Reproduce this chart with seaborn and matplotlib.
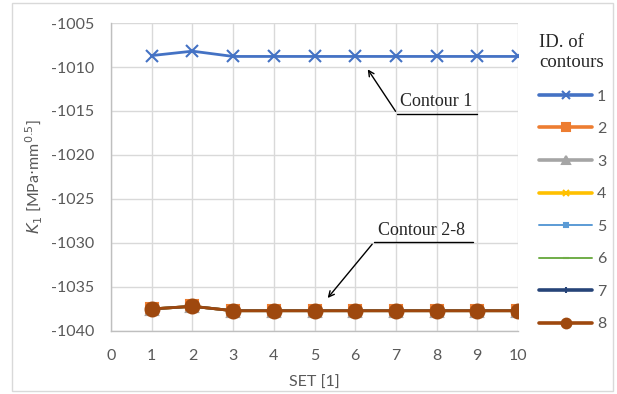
import numpy as np
import pandas as pd
import matplotlib
matplotlib.use("Agg")
import matplotlib.pyplot as plt
from matplotlib.lines import Line2D
from matplotlib.patches import Rectangle
import seaborn as sns

# values
sets = [1, 2, 3, 4, 5, 6, 7, 8, 9, 10]
k1_contour1 = [-1008.7, -1008.2, -1008.8, -1008.8, -1008.8, -1008.8, -1008.8, -1008.8, -1008.8, -1008.8]
k1_contour2_8 = [-1037.5, -1037.2, -1037.7, -1037.7, -1037.7, -1037.7, -1037.7, -1037.7, -1037.7, -1037.7]
contour_ids = ["1", "2", "3", "4", "5", "6", "7", "8"]

# Excel-like series styling
colors = ["#4472C4", "#ED7D31", "#A5A5A5", "#FFC000", "#5B9BD5", "#70AD47", "#264478", "#9E480E"]
markers = ["x", "s", "^", "x", "s", "_", "+", "o"]
widths = [2.0, 2.0, 2.0, 2.0, 0.8, 0.8, 2.0, 2.0]
msizes = [9, 9, 8, 6, 4, 6, 6, 10]

rows = []
for cid in contour_ids:
    vals = k1_contour1 if cid == "1" else k1_contour2_8
    for s, v in zip(sets, vals):
        rows.append({"set": s, "k1": v, "contour": cid})
df = pd.DataFrame(rows)

sns.set_style("white")
plt.rcParams["font.family"] = ["Lato", "DejaVu Sans"]
plt.rcParams["axes.unicode_minus"] = False

fig = plt.figure(figsize=(6.17, 3.94), dpi=100)
ax = fig.add_axes([0.180, 0.160, 0.6595, 0.7816])

fig.add_artist(Rectangle((12 / 617, 3 / 394), 601 / 617, 388 / 394, transform=fig.transFigure,
                         fill=False, edgecolor="#D9D9D9", lw=1.0))

for i, cid in enumerate(contour_ids):
    sub = df[df["contour"] == cid]
    sns.lineplot(data=sub, x="set", y="k1", ax=ax, color=colors[i], lw=widths[i],
                 marker=markers[i], markersize=msizes[i], markeredgecolor=colors[i],
                 markeredgewidth=1.5, legend=False, zorder=3 + i)

ax.set_xlim(0, 10)
ax.set_ylim(-1040, -1005)
ax.set_xticks(range(0, 11))
ax.set_yticks(np.arange(-1040, -1004, 5))
ax.grid(True, color="#D9D9D9", lw=1.0)
ax.set_axisbelow(True)
for side in ["top", "right"]:
    ax.spines[side].set_visible(False)
for side in ["left", "bottom"]:
    ax.spines[side].set_color("#BFBFBF")
    ax.spines[side].set_linewidth(1.0)
ax.tick_params(axis="y", length=0, labelsize=11.5, labelcolor="#595959", pad=12)
ax.tick_params(axis="x", length=0, labelsize=11.5, labelcolor="#595959", pad=13)

ax.set_xlabel("SET [1]", fontsize=11.5, color="#595959", labelpad=9)
ax.set_ylabel(r"$K_1$ [MPa$\cdot$mm$^{0.5}$]", fontsize=11.5, color="#595959", labelpad=4)

# callouts
serif = ["Liberation Serif", "DejaVu Serif"]
ax.annotate("", xy=(6.27, -1010.0), xytext=(7.03, -1015.3),
            arrowprops=dict(arrowstyle="->", color="black", lw=1.0), annotation_clip=False)
ax.plot([7.03, 9.0], [-1015.3, -1015.3], color="black", lw=1.0, clip_on=False)
ax.text(7.1, -1014.9, "Contour 1", family=serif, fontsize=13, va="bottom", ha="left")

ax.annotate("", xy=(5.28, -1036.5), xytext=(6.46, -1029.9),
            arrowprops=dict(arrowstyle="->", color="black", lw=1.0), annotation_clip=False)
ax.plot([6.46, 8.9], [-1029.9, -1029.9], color="black", lw=1.0, clip_on=False)
ax.text(6.55, -1029.5, "Contour 2-8", family=serif, fontsize=13, va="bottom", ha="left")

handles = [Line2D([], [], color=colors[i], lw=widths[i] + 0.6, marker=markers[i],
                  markersize=msizes[i] * 0.7, markeredgecolor=colors[i], markeredgewidth=1.5)
           for i in range(len(contour_ids))]
leg = fig.legend(handles, contour_ids, loc="upper left", bbox_to_anchor=(525 / 617, 1 - 20 / 394),
                 frameon=False, title="ID. of\ncontours", fontsize=11.5, handlelength=3.3,
                 handletextpad=0.3, labelspacing=1.15, alignment="left")
leg.get_title().set_fontfamily(serif)
leg.get_title().set_fontsize(13.5)
for t in leg.get_texts():
    t.set_color("#595959")

fig.savefig("out.png", dpi=100)
